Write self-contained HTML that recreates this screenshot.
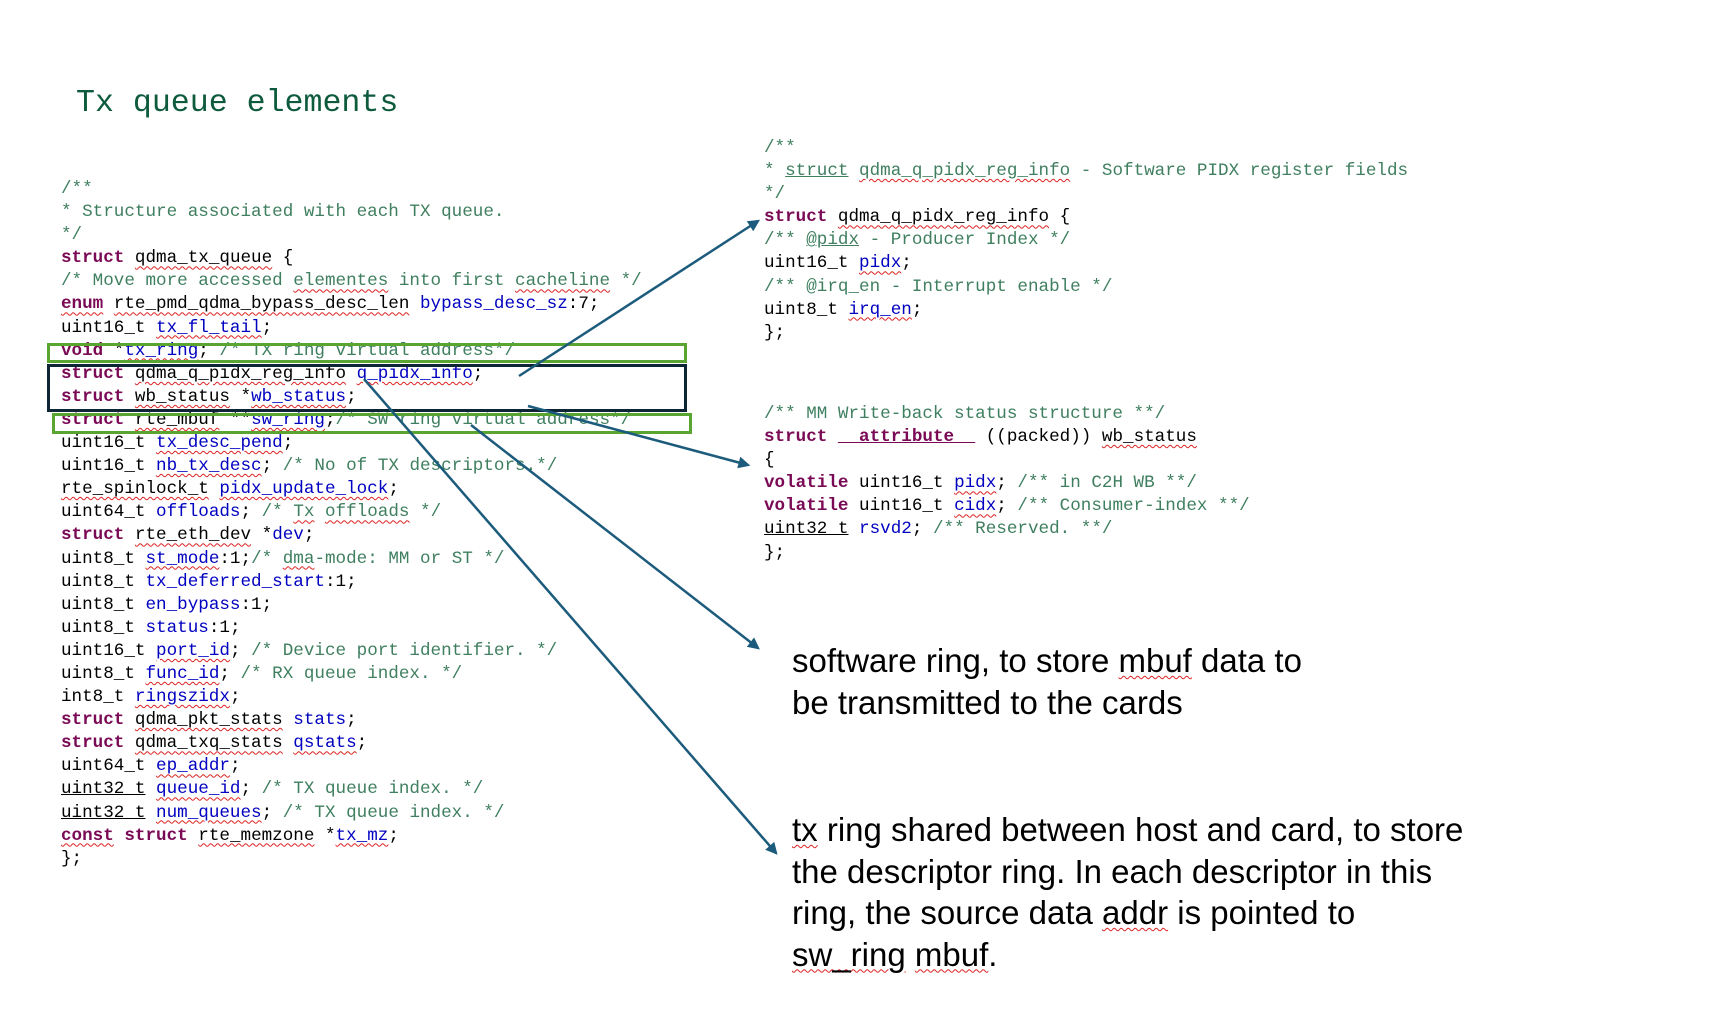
<!DOCTYPE html>
<html><head><meta charset="utf-8"><style>
html,body{margin:0;padding:0;background:#fff;}
body{width:1712px;height:1010px;position:relative;overflow:hidden;}
.t{position:absolute;left:76px;top:86px;font:31.6px "Liberation Mono",monospace;color:#0d5a3c;white-space:pre;}
.code{position:absolute;font:17.6px/23.1px "Liberation Mono",monospace;color:#000;white-space:pre;}
.k{color:#7a0a55;font-weight:bold}
.c{color:#3f7f5f}
.b{color:#0000c0}
.u{text-decoration:underline wavy #d22;text-decoration-thickness:1px;text-underline-offset:3px}
.note{position:absolute;left:801px;font:33px/41.5px "Liberation Sans",sans-serif;color:#000;white-space:pre;}
.box{position:absolute;box-sizing:border-box}
</style></head><body>
<div class="t">Tx queue elements</div>

<div class="code" style="left:61px;top:178px;"><span class="c">/**</span>
<span class="c">* Structure associated with each TX queue.</span>
<span class="c">*/</span>
<span class="k">struct</span> <span class="u">qdma_tx_queue</span> {
<span class="c">/* Move more accessed <span class="u">elementes</span> into first <span class="u">cacheline</span> */</span>
<span class="k u">enum</span> <span class="u">rte_pmd_qdma_bypass_desc_len</span> <span class="b">bypass_desc_sz</span>:7;
uint16_t <span class="b u">tx_fl_tail</span>;
<span class="k">void</span> *<span class="b u">tx_ring</span>; <span class="c">/* TX ring virtual address*/</span>
<span class="k">struct</span> <span class="u">qdma_q_pidx_reg_info</span> <span class="b u">q_pidx_info</span>;
<span class="k">struct</span> <span class="u">wb_status</span> *<span class="b u">wb_status</span>;
<span class="k">struct</span> <span class="u">rte_mbuf</span> **<span class="b u">sw_ring</span>;<span class="c">/* SW ring virtual address*/</span>
uint16_t <span class="b u">tx_desc_pend</span>;
uint16_t <span class="b u">nb_tx_desc</span>; <span class="c">/* No of TX descriptors.*/</span>
<span class="u">rte_spinlock_t</span> <span class="b u">pidx_update_lock</span>;
uint64_t <span class="b">offloads</span>; <span class="c">/* <span class="u">Tx</span> <span class="u">offloads</span> */</span>
<span class="k">struct</span> <span class="u">rte_eth_dev</span> *<span class="b">dev</span>;
uint8_t <span class="b u">st_mode</span>:1;<span class="c">/* <span class="u">dma</span>-mode: MM or ST */</span>
uint8_t <span class="b">tx_deferred_start</span>:1;
uint8_t <span class="b">en_bypass</span>:1;
uint8_t <span class="b">status</span>:1;
uint16_t <span class="b u">port_id</span>; <span class="c">/* Device port identifier. */</span>
uint8_t <span class="b u">func_id</span>; <span class="c">/* RX queue index. */</span>
int8_t <span class="b u">ringszidx</span>;
<span class="k">struct</span> <span class="u">qdma_pkt_stats</span> <span class="b">stats</span>;
<span class="k">struct</span> <span class="u">qdma_txq_stats</span> <span class="b u">qstats</span>;
uint64_t <span class="b u">ep_addr</span>;
<span style="text-decoration:underline">uint32_t</span> <span class="b u">queue_id</span>; <span class="c">/* TX queue index. */</span>
<span style="text-decoration:underline">uint32_t</span> <span class="b u">num_queues</span>; <span class="c">/* TX queue index. */</span>
<span class="k u">const</span> <span class="k">struct</span> <span class="u">rte_memzone</span> *<span class="b u">tx_mz</span>;
};</div>

<div class="code" style="left:764px;top:137px;"><span class="c">/**</span>
<span class="c">* <span style="text-decoration:underline">struct</span> <span class="u">qdma_q_pidx_reg_info</span> - Software PIDX register fields</span>
<span class="c">*/</span>
<span class="k">struct</span> <span class="u">qdma_q_pidx_reg_info</span> {
<span class="c">/** <span style="text-decoration:underline">@pidx</span> - Producer Index */</span>
uint16_t <span class="b u">pidx</span>;
<span class="c">/** @irq_en - Interrupt enable */</span>
uint8_t <span class="b u">irq_en</span>;
};</div>

<div class="code" style="left:764px;top:403px;"><span class="c">/** MM Write-back status structure **/</span>
<span class="k">struct</span> <span class="k" style="text-decoration:underline">__attribute__</span> ((packed)) <span class="u">wb_status</span>
{
<span class="k">volatile</span> uint16_t <span class="b u">pidx</span>; <span class="c">/** in C2H WB **/</span>
<span class="k">volatile</span> uint16_t <span class="b u">cidx</span>; <span class="c">/** Consumer-index **/</span>
<span style="text-decoration:underline">uint32_t</span> <span class="b">rsvd2</span>; <span class="c">/** Reserved. **/</span>
};</div>

<div class="note" style="top:640px;left:792px;">software ring, to store <span class="u">mbuf</span> data to
be transmitted to the cards</div>
<div class="note" style="top:809px;left:792px;"><span class="u">tx</span> ring shared between host and card, to store
the descriptor ring. In each descriptor in this
ring, the source data <span class="u">addr</span> is pointed to
<span class="u">sw_ring</span> <span class="u">mbuf</span>.</div>

<div class="box" style="left:47px;top:343px;width:640px;height:20px;border:3px solid #5aa532;"></div>
<div class="box" style="left:47px;top:364px;width:640px;height:48px;border:3px solid #0d2535;"></div>
<div class="box" style="left:52px;top:413px;width:640px;height:21px;border:3px solid #5aa532;"></div>

<svg width="1712" height="1010" style="position:absolute;left:0;top:0" xmlns="http://www.w3.org/2000/svg">
<defs><marker id="m" viewBox="0 0 10 10" markerWidth="12" markerHeight="12" refX="8" refY="5" orient="auto" markerUnits="userSpaceOnUse"><path d="M0,0 L10,5 L0,10 Z" fill="#1c5b7c"/></marker></defs>
<g stroke="#1c5b7c" stroke-width="2.5" fill="none" marker-end="url(#m)">
<line x1="519" y1="376" x2="758" y2="221"/>
<line x1="528" y1="406" x2="748" y2="465"/>
<line x1="471" y1="425" x2="758" y2="648"/>
<line x1="364" y1="379" x2="776" y2="853"/>
</g>
</svg>
</body></html>
